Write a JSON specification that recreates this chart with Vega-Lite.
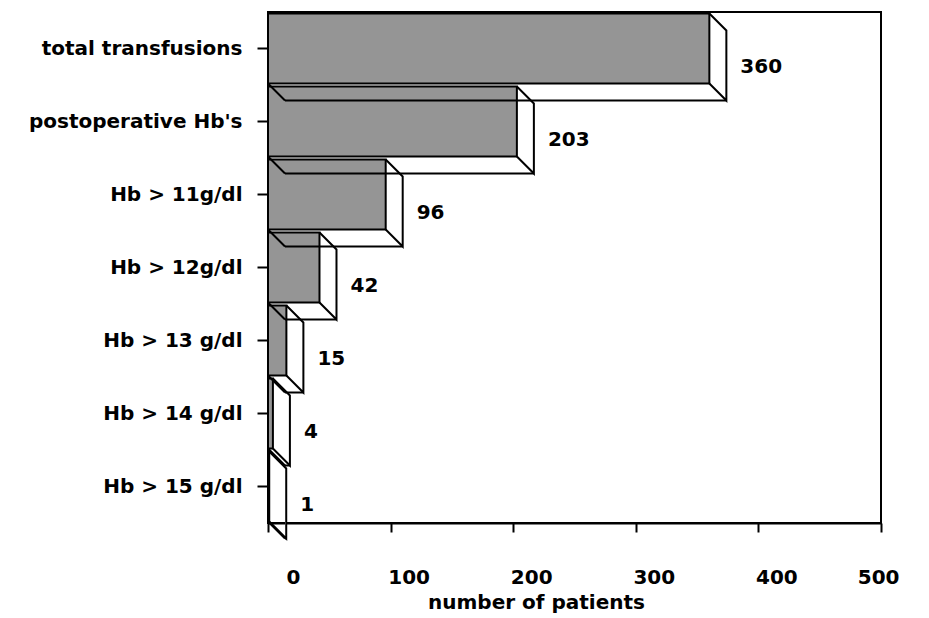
{
  "$schema": "https://vega.github.io/schema/vega-lite/v6.json",
  "width": 613,
  "height": 511,
  "autosize": {"type": "none"},
  "padding": {"left": 268, "top": 12, "right": 48, "bottom": 95},
  "background": "white",
  "config": {
    "view": {"stroke": "black", "strokeWidth": 2},
    "font": "DejaVu Sans"
  },
  "data": {
    "values": [
      {"cat": "total transfusions", "n": 360},
      {"cat": "postoperative Hb's", "n": 203},
      {"cat": "Hb > 11g/dl", "n": 96},
      {"cat": "Hb > 12g/dl", "n": 42},
      {"cat": "Hb > 13 g/dl", "n": 15},
      {"cat": "Hb > 14 g/dl", "n": 4},
      {"cat": "Hb > 15 g/dl", "n": 1}
    ]
  },
  "encoding": {
    "y": {
      "field": "cat",
      "type": "nominal",
      "sort": null,
      "scale": {"paddingInner": 0.0411, "paddingOuter": 0.02055},
      "axis": {
        "title": null,
        "domain": false,
        "ticks": true,
        "tickSize": 11,
        "tickWidth": 2,
        "tickColor": "black",
        "labelPadding": 15,
        "labelLimit": 400,
        "labelFontSize": 20,
        "labelFontWeight": "bold",
        "labelFont": "DejaVu Sans",
        "labelColor": "black"
      }
    },
    "x": {
      "field": "n",
      "type": "quantitative",
      "scale": {"domain": [0, 500], "nice": false},
      "axis": {
        "values": [0, 100, 200, 300, 400, 500],
        "grid": false,
        "domain": true,
        "domainColor": "black",
        "domainWidth": 2,
        "tickColor": "black",
        "tickSize": 9,
        "tickWidth": 2,
        "labelOffset": 18,
        "labelPadding": 35,
        "labelFontSize": 20,
        "labelFontWeight": "bold",
        "labelFont": "DejaVu Sans",
        "labelColor": "black",
        "title": "number of patients",
        "titleFont": "DejaVu Sans",
        "titleFontSize": 20,
        "titleFontWeight": "bold",
        "titleColor": "black",
        "titleX": 268,
        "titleY": 85,
        "titleBaseline": "alphabetic"
      }
    }
  },
  "layer": [
    {
      "mark": {"type": "bar", "fill": "white", "strokeWidth": 0, "xOffset": 17, "x2Offset": 17, "yOffset": 17, "y2Offset": 17}
    },
    {
      "mark": {"type": "bar", "fill": "#959595", "stroke": "black", "strokeWidth": 2}
    },
    {
      "mark": {"type": "point", "shape": "M0,-35L17,-18L17,52L0,35", "size": 4, "filled": false, "stroke": "black", "strokeWidth": 2, "opacity": 1}
    },
    {
      "mark": {"type": "point", "shape": "M0,35L17,52", "size": 4, "filled": false, "stroke": "black", "strokeWidth": 2, "opacity": 1},
      "encoding": {"x": {"datum": 0, "type": "quantitative"}}
    },
    {
      "mark": {"type": "rule", "color": "black", "strokeWidth": 2, "xOffset": 17, "x2Offset": 17, "yOffset": 52},
      "encoding": {"x2": {"datum": 0}}
    },
    {
      "mark": {"type": "text", "align": "left", "baseline": "middle", "dx": 31, "dy": 18, "fontSize": 20, "fontWeight": "bold", "font": "DejaVu Sans", "color": "black"},
      "encoding": {"text": {"field": "n", "type": "quantitative"}}
    }
  ]
}
